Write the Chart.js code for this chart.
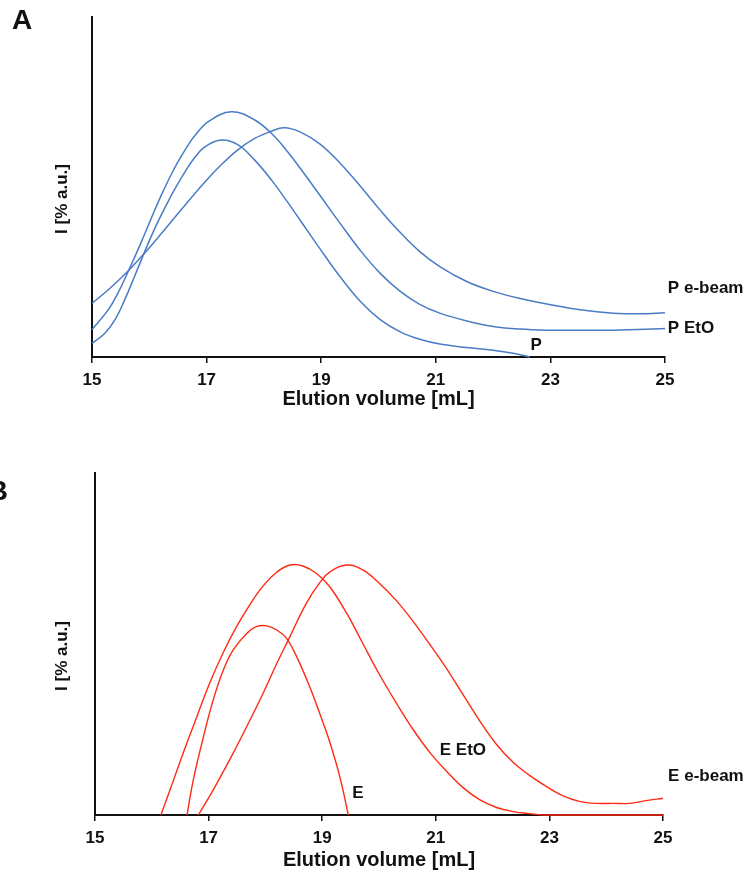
<!DOCTYPE html>
<html><head><meta charset="utf-8">
<script src="https://cdn.jsdelivr.net/npm/chart.js@4.4.1/dist/chart.umd.min.js"></script>
<style>
html,body{margin:0;padding:0;background:#fff;}
body{width:747px;height:874px;position:relative;overflow:hidden;}
.panel{position:absolute;left:0;width:747px;}
#pa{top:0;height:440px;}
#pb{top:440px;height:434px;}
canvas{display:block;}
</style></head><body>
<div class="panel" id="pa"><canvas id="ca" width="747" height="440"></canvas></div>
<div class="panel" id="pb"><canvas id="cb" width="747" height="434"></canvas></div>
<script>
// ---------- data ----------
const xTicks = [15, 17, 19, 21, 23, 25];
const xTitle = 'Elution volume [mL]';
const yTitle = 'I [% a.u.]';

// Panel A (P samples)
const pEbeamX = [15.00,15.28,15.63,15.92,16.21,16.56,16.97,17.26,17.55,17.84,18.13,18.35,18.63,18.98,19.33,19.68,20.03,20.38,20.72,21.07,21.54,22.00,22.47,22.94,23.52,24.10,24.56,25.00];
const pEbeamY = [15.8,19.7,25.3,30.6,36.3,43.4,51.5,56.6,61.0,64.3,66.4,67.4,66.2,62.6,57.0,50.3,43.2,36.6,31.0,26.6,22.2,19.3,17.2,15.6,13.9,12.9,12.7,13.0];

const pEtoX = [15.00,15.28,15.45,15.63,15.74,15.86,15.98,16.09,16.21,16.38,16.50,16.68,16.79,17.03,17.43,17.84,18.19,18.42,18.63,18.98,19.33,19.68,20.03,20.38,20.72,21.07,21.54,22.00,22.47,22.94,23.52,24.10,25.00];
const pEtoY = [8.1,13.8,18.7,25.1,29.2,33.8,38.6,43.0,47.6,53.6,57.4,62.4,65.0,69.2,72.1,69.7,64.8,60.2,55.6,47.5,39.3,31.4,24.6,19.3,15.5,12.9,10.6,9.0,8.2,7.9,7.9,7.9,8.4];

const pX = [15.00,15.22,15.40,15.57,15.74,15.92,16.09,16.21,16.33,16.44,16.62,16.79,16.97,17.26,17.55,17.84,18.13,18.42,18.63,18.98,19.33,19.68,20.03,20.38,20.72,21.07,21.54,22.00,22.35,22.64];
const pY = [4.0,6.9,10.9,16.8,23.6,31.0,37.6,41.8,45.8,49.2,54.4,58.6,61.8,63.8,62.4,57.9,52.1,45.4,40.3,31.8,23.6,16.4,11.0,7.4,5.2,3.8,2.8,2.0,1.1,0.0];

// Panel B (E samples)
const eEtoX = [16.16,16.32,16.55,16.79,17.02,17.26,17.49,17.73,17.96,18.20,18.43,18.66,18.90,19.13,19.43,19.72,20.01,20.31,20.60,20.89,21.19,21.48,21.77,22.07,22.36,22.65,22.95,25.00];
const eEtoY = [0,7.3,18.0,28.6,38.6,47.6,55.0,61.6,67.0,71.0,73.1,72.8,70.6,66.8,59.0,50.0,41.0,32.6,25.0,18.4,12.8,8.0,4.5,2.2,1.0,0.4,0,0];

const eX = [16.62,16.73,16.91,17.08,17.26,17.43,17.67,17.84,18.02,18.20,18.37,18.55,18.78,18.96,19.13,19.31,19.46];
const eY = [0,10.2,22.9,33.6,42.4,48.2,53.1,55.1,55.3,54.1,51.7,46.3,37.5,29.5,21.5,11.2,0];

const eEbeamX = [16.82,17.08,17.37,17.67,17.96,18.20,18.43,18.72,18.96,19.13,19.43,19.72,20.01,20.31,20.60,20.89,21.19,21.48,21.77,22.07,22.36,22.65,22.95,23.24,23.53,23.82,24.12,24.41,24.70,25.00];
const eEbeamY = [0,7.3,16.1,25.8,35.6,44.3,52.1,61.9,68.0,71.0,73.1,71.6,67.7,62.6,56.6,50.0,42.8,35.2,27.6,20.6,15.4,11.6,8.3,5.6,4.0,3.4,3.4,3.4,4.2,4.9];

// series label texts
const labelsA = ['P e-beam', 'P EtO', 'P'];
const labelsB = ['E e-beam', 'E EtO', 'E'];

// ---------- helpers ----------
const FONT = "'Liberation Sans', Arial, Helvetica, sans-serif";
const INK = '#111';
const pts = (xs, ys) => xs.map((x, i) => ({x, y: ys[i]}));

const seriesLabelPlugin = {
  id: 'seriesLabels',
  afterDraw(chart, args, opts) {
    const ctx = chart.ctx, xs = chart.scales.x, ys = chart.scales.y, ca = chart.chartArea;
    ctx.save();
    ctx.fillStyle = INK;
    ctx.textBaseline = 'middle';
    ctx.font = 'bold ' + opts.size + 'px ' + FONT;
    (opts.items || []).forEach(it => {
      ctx.textAlign = it.align || 'left';
      ctx.fillText(it.text, xs.getPixelForValue(it.x), ys.getPixelForValue(it.y));
    });
    // rotated y-axis title
    ctx.save();
    ctx.font = 'bold 17px ' + FONT;
    ctx.textAlign = 'center';
    ctx.translate(opts.yTitleX, (ca.top + ca.bottom) / 2 + opts.yTitleShift);
    ctx.rotate(-Math.PI / 2);
    ctx.fillText(yTitle, 0, 0);
    ctx.restore();
    if (opts.letter) {
      const L = opts.letter;
      ctx.font = 'bold ' + L.size + 'px ' + FONT;
      ctx.textAlign = L.align;
      ctx.fillText(L.text, L.px, L.py);
    }
    ctx.restore();
  }
};

function makePanel(canvas, datasets, lay) {
  return new Chart(canvas, {
    type: 'line',
    data: {datasets},
    plugins: [seriesLabelPlugin],
    options: {
      responsive: false, animation: false, devicePixelRatio: 1,
      layout: {padding: {top: lay.top, right: lay.right, left: 0, bottom: 0}},
      elements: {point: {radius: 0}, line: {tension: 0.4}},
      plugins: {
        legend: {display: false}, tooltip: {enabled: false},
        seriesLabels: {size: 17, items: lay.items, letter: lay.letter, yTitleX: 62, yTitleShift: 12}
      },
      scales: {
        x: {
          type: 'linear', min: 15, max: 25,
          afterBuildTicks: s => { s.ticks = xTicks.map(v => ({value: v})); },
          afterFit: s => { s.height = lay.xh; },
          ticks: {font: {family: FONT, size: 17, weight: 'bold'}, color: INK, padding: 7, maxRotation: 0,
                  callback: v => String(v)},
          grid: {display: true, drawOnChartArea: false, drawTicks: true, tickLength: 6, color: INK, lineWidth: 1.5},
          border: {display: true, color: INK, width: 2},
          title: {display: true, text: xTitle, color: INK,
                  font: {family: FONT, size: 20, weight: 'bold'},
                  padding: {top: 0, bottom: lay.titleBottom}}
        },
        y: {
          type: 'linear', min: 0, max: 100,
          afterFit: s => { s.width = lay.yw; },
          ticks: {display: false},
          grid: {display: false},
          border: {display: true, color: INK, width: 2},
          title: {display: false}
        }
      }
    }
  });
}

const BLUE = '#4a7cc6';
const RED = '#ff2a12';
const ds = (xs, ys, color, w) => ({data: pts(xs, ys), borderColor: color, borderWidth: w, fill: false, clip: 4});

makePanel(document.getElementById('ca'), [
  ds(pEbeamX, pEbeamY, BLUE, 1.5),
  ds(pEtoX, pEtoY, BLUE, 1.5),
  ds(pX, pY, BLUE, 1.5)
], {
  top: 17, right: 82, yw: 92, xh: 83, titleBottom: 29,
  items: [
    {text: labelsA[0], x: 25.05, y: 20.3},
    {text: labelsA[1], x: 25.05, y: 8.4},
    {text: labelsA[2], x: 22.75, y: 3.5, align: 'center'}
  ],
  letter: {text: 'A', size: 28, align: 'center', px: 22, py: 21}
});

makePanel(document.getElementById('cb'), [
  ds(eEbeamX, eEbeamY, RED, 1.4),
  ds(eEtoX, eEtoY, RED, 1.4),
  ds(eX, eY, RED, 1.4)
], {
  top: 33, right: 84, yw: 95, xh: 59, titleBottom: 2,
  items: [
    {text: labelsB[0], x: 25.09, y: 11.4},
    {text: labelsB[1], x: 21.07, y: 19.0},
    {text: labelsB[2], x: 19.63, y: 6.4, align: 'center'}
  ],
  letter: {text: 'B', size: 28, align: 'right', px: 8, py: 52}
});
</script>
</body></html>
